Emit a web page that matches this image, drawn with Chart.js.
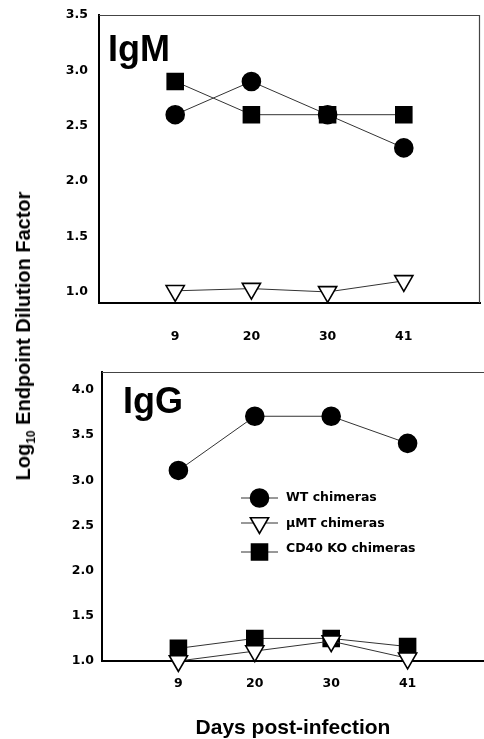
<!DOCTYPE html>
<html><head><meta charset="utf-8">
<script src="https://cdn.jsdelivr.net/npm/chart.js@4"></script>
<style>
html,body{margin:0;padding:0;background:#fff;overflow:hidden;width:484px;height:739px;}
canvas{position:absolute;left:0;}
#c1{top:0}
#c2{top:360px}
#ytitle{position:absolute;left:23px;top:336px;transform:translate(-50%,-50%) rotate(-90deg);font:bold 20px "Liberation Sans",Arial,sans-serif;line-height:20px;white-space:nowrap;color:#000;}
#ytitle sub{font-size:12px;vertical-align:-5px;line-height:0;}
</style></head>
<body>
<canvas id="c1" width="484" height="350"></canvas>
<canvas id="c2" width="484" height="381"></canvas>
<div id="ytitle">Log<sub>10</sub> Endpoint Dilution Factor</div>
<script>
// ---- data ----
const days = ['9', '20', '30', '41'];
const seriesNames = ['WT chimeras', '\u03bcMT chimeras', 'CD40 KO chimeras'];
const igmWT   = [2.6, 2.9, 2.6, 2.3];
const igmMuMT = [1.01, 1.03, 1.0, 1.1];
const igmCD40 = [2.9, 2.6, 2.6, 2.6];
const iggWT   = [3.11, 3.71, 3.71, 3.41];
const iggMuMT = [1.0, 1.11, 1.22, 1.03];
const iggCD40 = [1.14, 1.25, 1.25, 1.16];
const igmYTicks = [1.0, 1.5, 2.0, 2.5, 3.0, 3.5];
const iggYTicks = [1.0, 1.5, 2.0, 2.5, 3.0, 3.5, 4.0];
const xTitle = 'Days post-infection';

Chart.defaults.font.family = '"DejaVu Sans", sans-serif';
Chart.defaults.color = '#000';

const styles = [
  { pointStyle: 'circle', radius: 9, rotation: 0, bg: '#000' },
  { pointStyle: 'triangle', radius: 10.5, rotation: 180, bg: '#fff' },
  { pointStyle: 'rect', radius: 11.3, rotation: 0, bg: '#000' }
];

function makeDataset(name, values, st) {
  return {
    label: name,
    data: values.map((v, i) => ({ x: i + 1, y: v })),
    borderColor: '#333',
    borderWidth: 1,
    pointStyle: st.pointStyle,
    pointRadius: st.radius,
    pointHoverRadius: st.radius,
    pointRotation: st.rotation,
    pointBackgroundColor: st.bg,
    pointBorderColor: '#000',
    pointBorderWidth: 1.6,
    clip: false,
    tension: 0
  };
}

const frame = {
  id: 'frame',
  beforeDatasetsDraw(chart, args, opts) {
    const { ctx, chartArea: a } = chart;
    ctx.save();
    ctx.strokeStyle = '#444';
    ctx.lineWidth = 1.2;
    ctx.beginPath();
    ctx.moveTo(a.left, a.top + 0.5);
    ctx.lineTo(a.right, a.top + 0.5);
    if (opts.right) {
      ctx.moveTo(a.right - 0.5, a.top);
      ctx.lineTo(a.right - 0.5, a.bottom);
    }
    ctx.stroke();
    ctx.restore();
  },
  afterDraw(chart, args, opts) {
    const { ctx, chartArea: a } = chart;
    ctx.save();
    ctx.fillStyle = '#000';
    ctx.font = 'bold 36px "Liberation Sans", Arial, sans-serif';
    ctx.textBaseline = 'alphabetic';
    ctx.textAlign = 'left';
    ctx.fillText(opts.label, a.left + opts.lx, a.top + opts.ly);
    if (opts.legend) {
      const mx = a.left + 157.5;
      const rows = [
        { ty: a.top + 126, my: a.top + 126 },
        { ty: a.top + 152, my: a.top + 151 },
        { ty: a.top + 177, my: a.top + 180 }
      ];
      chart.data.datasets.forEach((ds, i) => {
        const r = rows[i];
        ctx.strokeStyle = '#333';
        ctx.lineWidth = 1;
        ctx.beginPath();
        ctx.moveTo(mx - 18.5, r.my);
        ctx.lineTo(mx + 18.5, r.my);
        ctx.stroke();
        ctx.fillStyle = ds.pointBackgroundColor;
        ctx.strokeStyle = ds.pointBorderColor;
        ctx.lineWidth = ds.pointBorderWidth;
        Chart.helpers.drawPoint(ctx, {
          pointStyle: ds.pointStyle,
          rotation: ds.pointRotation,
          radius: ds.pointRadius,
          borderWidth: ds.pointBorderWidth
        }, mx, r.my);
        ctx.fillStyle = '#000';
        ctx.font = 'bold 12.5px "DejaVu Sans", sans-serif';
        ctx.textBaseline = 'middle';
        ctx.fillText(ds.label, mx + 26.5, r.ty);
      });
    }
    ctx.restore();
  }
};

function makeChart(id, cfg) {
  return new Chart(document.getElementById(id), {
    type: 'line',
    data: {
      datasets: [
        makeDataset(seriesNames[0], cfg.wt, styles[0]),
        makeDataset(seriesNames[1], cfg.mu, styles[1]),
        makeDataset(seriesNames[2], cfg.cd, styles[2])
      ]
    },
    options: {
      responsive: false,
      animation: false,
      events: [],
      layout: { autoPadding: false, padding: { top: cfg.padTop, right: cfg.padRight, left: 0, bottom: 0 } },
      plugins: {
        legend: { display: false },
        tooltip: { enabled: false },
        frame: cfg.frame
      },
      scales: {
        x: {
          type: 'linear',
          min: 0, max: days.length + 1,
          grid: { display: false, drawTicks: false },
          border: { display: true, color: '#000', width: 2 },
          afterBuildTicks: s => { s.ticks = days.map((d, i) => ({ value: i + 1 })); },
          afterFit: s => { s.height = cfg.xHeight; s.paddingLeft = 0; s.paddingRight = 0; },
          ticks: {
            padding: cfg.xPad,
            autoSkip: false,
            maxRotation: 0,
            font: { size: 12.5, weight: 'bold' },
            callback: v => days[v - 1]
          },
          title: cfg.xTitle ? {
            display: true, text: xTitle, padding: 0,
            font: { family: '"Liberation Sans", Arial, sans-serif', size: 21, weight: 'bold' }
          } : { display: false }
        },
        y: {
          type: 'linear',
          min: cfg.ymin, max: cfg.ymax,
          grid: { display: false, drawTicks: false },
          border: { display: true, color: '#000', width: 2 },
          afterBuildTicks: s => { s.ticks = cfg.yticks.map(v => ({ value: v })); },
          afterFit: s => { s.width = cfg.yWidth; s.paddingTop = 0; s.paddingBottom = 0; },
          ticks: {
            padding: cfg.yPad,
            font: { size: 12.5, weight: 'bold' },
            callback: v => v.toFixed(1)
          }
        }
      }
    },
    plugins: [frame]
  });
}

makeChart('c1', {
  wt: igmWT, mu: igmMuMT, cd: igmCD40,
  ymin: 0.9, ymax: 3.5, yticks: igmYTicks,
  padTop: 15, padRight: 4, xHeight: 47, yWidth: 99, xPad: 26, yPad: 11,
  xTitle: false,
  frame: { right: true, label: 'IgM', lx: 9, ly: 46, legend: false }
});

makeChart('c2', {
  wt: iggWT, mu: iggMuMT, cd: iggCD40,
  ymin: 1.0, ymax: 4.2, yticks: iggYTicks,
  padTop: 12, padRight: 0, xHeight: 80, yWidth: 102, xPad: 15, yPad: 8,
  xTitle: true,
  frame: { right: false, label: 'IgG', lx: 21, ly: 41, legend: true }
});
</script>
</body></html>
